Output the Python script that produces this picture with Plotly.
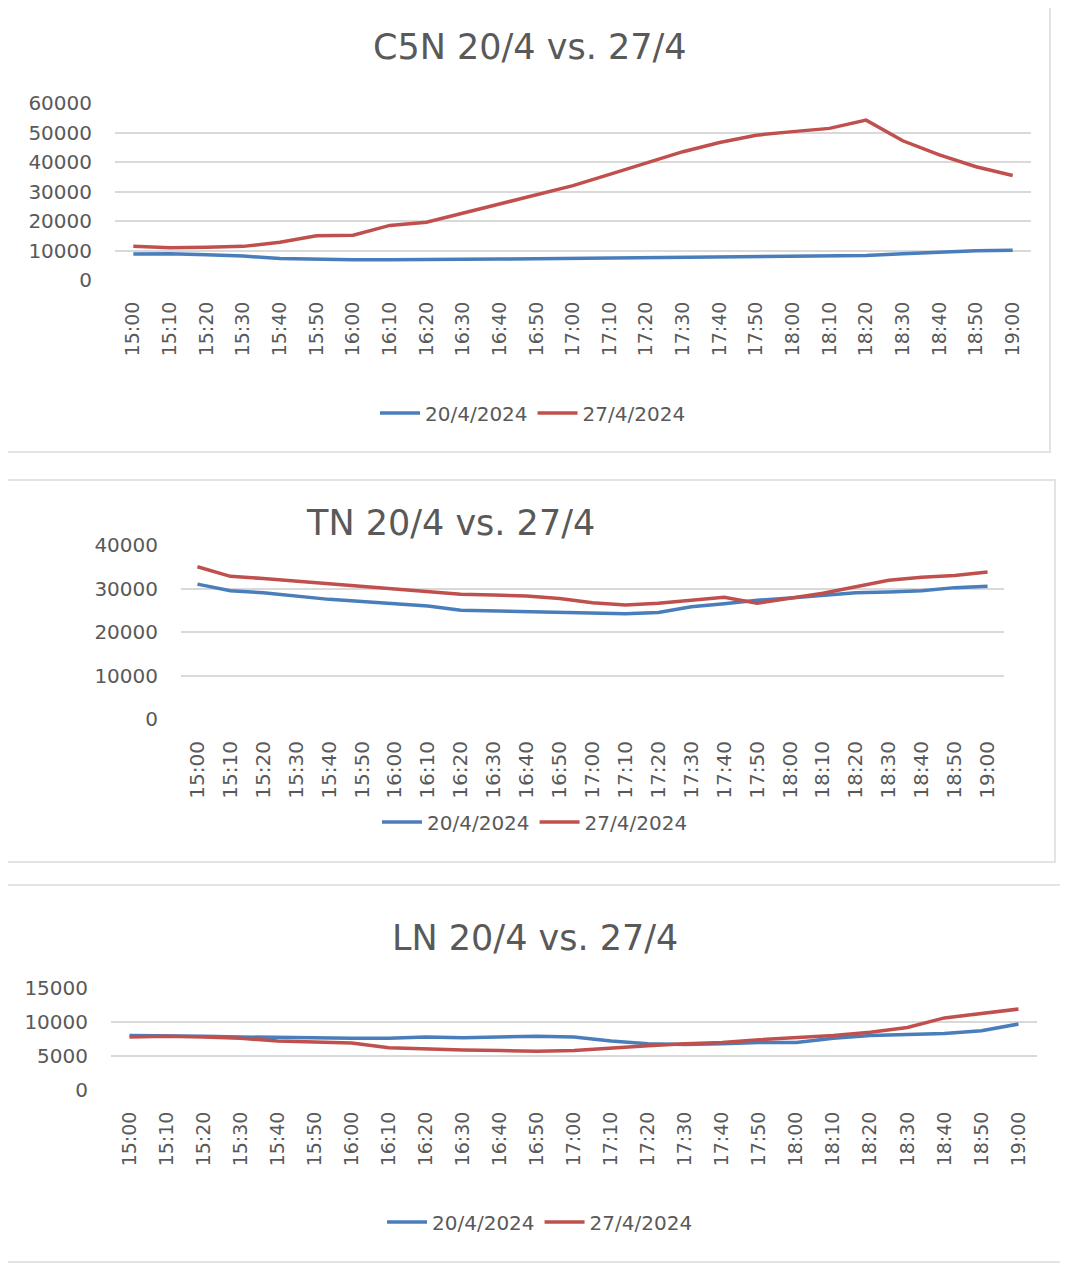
import plotly.graph_objects as go

times = ["15:00","15:10","15:20","15:30","15:40","15:50","16:00","16:10","16:20","16:30",
         "16:40","16:50","17:00","17:10","17:20","17:30","17:40","17:50","18:00","18:10",
         "18:20","18:30","18:40","18:50","19:00"]

series_names = ["20/4/2024", "27/4/2024"]

c5n_20 = [8800, 8900, 8600, 8100, 7300, 7000, 6900, 6900, 6900, 7000, 7100, 7200, 7300, 7400,
          7500, 7600, 7700, 7800, 7900, 8000, 8300, 8900, 9500, 9900, 10100]
c5n_27 = [11400, 10900, 11100, 11400, 12800, 15000, 15200, 18500, 19600, 22700, 26100, 29200,
          32000, 35800, 39800, 43500, 46600, 49100, 50300, 51400, 54200, 47200, 42400, 38400, 35400]

tn_20 = [31000, 29500, 29000, 28200, 27500, 27000, 26500, 26000, 25000, 24800, 24800, 24500,
         24200, 24200, 24500, 25800, 26500, 27300, 27800, 28300, 29000, 29200, 29500, 30200, 30500]
tn_27 = [35000, 32800, 32300, 31700, 31000, 30400, 30000, 29200, 28700, 28500, 28300, 27700,
         26700, 26200, 26600, 27300, 28000, 26600, 27700, 28900, 30400, 31900, 32600, 33000, 33800]

ln_20 = [8000, 8000, 7900, 7800, 7700, 7700, 7600, 7600, 7800, 7700, 7800, 7900, 7800, 7200,
         6800, 6700, 6800, 7000, 7000, 7600, 8000, 8200, 8300, 8700, 9700]
ln_27 = [7800, 7900, 7800, 7600, 7200, 7000, 6900, 6200, 6000, 5900, 5800, 5700, 5800, 6200,
         6500, 6800, 7000, 7400, 7700, 8000, 8500, 9200, 10600, 11200, 11900]

titles = ["C5N 20/4 vs. 27/4", "TN 20/4 vs. 27/4", "LN 20/4 vs. 27/4"]
y_ticks = [[0, 10000, 20000, 30000, 40000, 50000, 60000],
           [0, 10000, 20000, 30000, 40000],
           [0, 5000, 10000, 15000]]

W, H = 1060, 1258
OFF = 8  # page body margin
BLUE = "#4A7EBB"
RED = "#C0504D"
GRID = "#D9D9D9"
TXT = "#595959"
FONT = "DejaVu Sans"

def px_x(p):
    return (p - OFF) / W

def px_y(p):
    return 1 - (p - OFF) / H

panels = [
    dict(data=(c5n_20, c5n_27), xd=(115, 1031), yd=(280, 103), title_xy=(530, 47),
         legend_xy=(533, 413), box=(2, 2, 1050, 452), xfs=19),
    dict(data=(tn_20, tn_27), xd=(181, 1004), yd=(719, 545), title_xy=(450, 523),
         legend_xy=(535, 822), box=(2, 480, 1055, 862), xfs=20),
    dict(data=(ln_20, ln_27), xd=(111, 1037), yd=(1090, 988), title_xy=(535, 938),
         legend_xy=(540, 1222), box=(2, 885, 1062, 1262), xfs=19),
]

fig = go.Figure()
layout = dict(width=W, height=H, margin=dict(l=0, r=0, t=0, b=0, autoexpand=False),
              paper_bgcolor="white", plot_bgcolor="white", shapes=[], annotations=[])

for i, p in enumerate(panels):
    n = i + 1
    xa = "x" if n == 1 else f"x{n}"
    ya = "y" if n == 1 else f"y{n}"
    leg = "legend" if n == 1 else f"legend{n}"
    for s, (vals, col) in enumerate(zip(p["data"], (BLUE, RED))):
        fig.add_trace(go.Scatter(x=times, y=vals, mode="lines", name=series_names[s],
                                 line=dict(color=col, width=3.5), xaxis=xa, yaxis=ya,
                                 legend=leg, showlegend=True))
    ticks = y_ticks[i]
    layout["xaxis" if n == 1 else f"xaxis{n}"] = dict(
        domain=[px_x(p["xd"][0]), px_x(p["xd"][1])], anchor=ya, type="category",
        range=[-0.5, len(times) - 0.5],
        tickangle=-90, tickfont=dict(family=FONT, size=p["xfs"], color=TXT),
        showgrid=False, showline=False, ticks="outside", ticklen=13,
        tickcolor="rgba(0,0,0,0)", automargin=False, fixedrange=True)
    layout["yaxis" if n == 1 else f"yaxis{n}"] = dict(
        domain=[px_y(p["yd"][0]), px_y(p["yd"][1])], anchor=xa,
        range=[0, ticks[-1]], tickvals=ticks, ticktext=[str(t) for t in ticks],
        tickfont=dict(family=FONT, size=20, color=TXT), gridcolor=GRID, gridwidth=1.5,
        zeroline=False, showline=False, ticks="outside", ticklen=18,
        tickcolor="rgba(0,0,0,0)", automargin=False, fixedrange=True)
    layout[leg] = dict(orientation="h", x=px_x(p["legend_xy"][0]), y=px_y(p["legend_xy"][1]),
                       xanchor="center", yanchor="middle", bgcolor="rgba(0,0,0,0)",
                       font=dict(family=FONT, size=20, color=TXT), itemwidth=40)
    layout["annotations"].append(dict(
        text=titles[i], x=px_x(p["title_xy"][0]), y=px_y(p["title_xy"][1]),
        xref="paper", yref="paper", xanchor="center", yanchor="middle", showarrow=False,
        font=dict(family=FONT, size=35, color=TXT)))
    x0, y0, x1, y1 = p["box"]
    layout["shapes"].append(dict(type="rect", xref="paper", yref="paper",
                                 x0=px_x(x0), x1=px_x(x1), y0=px_y(y1), y1=px_y(y0),
                                 line=dict(color="#E3E3E3", width=2), layer="below"))

fig.update_layout(**layout)
fig.write_html("out.html")
